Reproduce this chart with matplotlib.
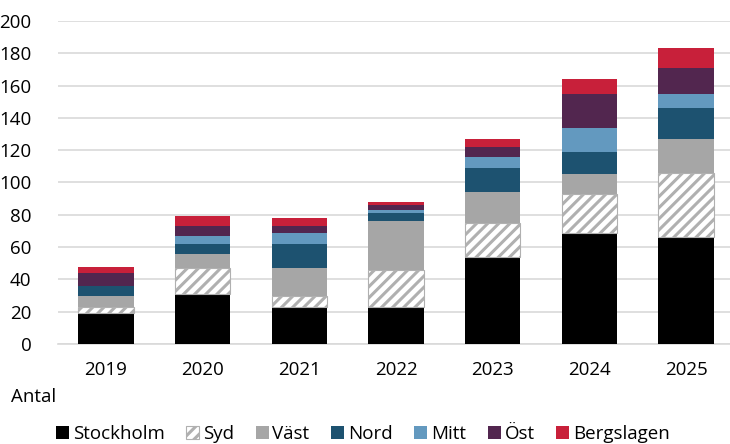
import numpy as np
import matplotlib
matplotlib.use("Agg")
import matplotlib.pyplot as plt

plt.rcParams['font.family'] = ['Open Sans', 'DejaVu Sans']
plt.rcParams['hatch.linewidth'] = 2.2

years = ['2019', '2020', '2021', '2022', '2023', '2024', '2025']
stockholm = [19, 31, 23, 23, 54, 69, 66]
syd = [4, 16, 7, 23, 21, 24, 40]
vast = [7, 9, 17, 30, 19, 12, 21]
nord = [6, 6, 15, 5, 15, 14, 19]
mitt = [0, 5, 7, 2, 7, 15, 9]
ost = [8, 6, 4, 3, 6, 21, 16]
bergslagen = [4, 6, 5, 2, 5, 9, 12]

series = [
    ('Stockholm', stockholm, '#000000', None),
    ('Syd', syd, '#ffffff', '///'),
    ('Väst', vast, '#a6a6a6', None),
    ('Nord', nord, '#1d5270', None),
    ('Mitt', mitt, '#6399bf', None),
    ('Öst', ost, '#52264f', None),
    ('Bergslagen', bergslagen, '#c8203a', None),
]

fig = plt.figure(figsize=(7.3, 4.44), dpi=100)
ax = fig.add_axes([0.079, 0.225, 0.927, 0.728])

x = np.arange(len(years))
bottom = np.zeros(len(years))
for name, vals, col, hatch in series:
    vals = np.array(vals, dtype=float)
    if hatch:
        ax.bar(x, vals, 0.57, bottom=bottom, color=col, hatch=hatch,
               edgecolor='#b0b0b0', linewidth=0.8, label=name, zorder=3)
    else:
        ax.bar(x, vals, 0.57, bottom=bottom, color=col, label=name, zorder=3)
    bottom += vals

ax.set_ylim(0, 200)
ax.set_xlim(-0.5, 6.5)
ax.set_yticks(range(0, 201, 20))
ax.set_xticks(x)
ax.set_xticklabels(years)
ax.grid(axis='y', color='#d9d9d9', linewidth=1.2, zorder=0)
for s in ['top', 'right', 'left']:
    ax.spines[s].set_visible(False)
ax.spines['bottom'].set_color('#d9d9d9')
ax.spines['bottom'].set_linewidth(1.2)
ax.tick_params(axis='both', length=0, labelsize=13.5, colors='#000000')
ax.tick_params(axis='x', pad=12)
ax.tick_params(axis='y', pad=19)

fig.text(0.015, 0.105, 'Antal', fontsize=13.5, va='center')
fig.legend(loc='center', bbox_to_anchor=(0.497, 0.022), ncol=7, frameon=False,
           fontsize=13.5, handlelength=0.7, handleheight=0.7,
           handletextpad=0.2, columnspacing=1.15, borderaxespad=0)

fig.savefig('out.png', dpi=100)
